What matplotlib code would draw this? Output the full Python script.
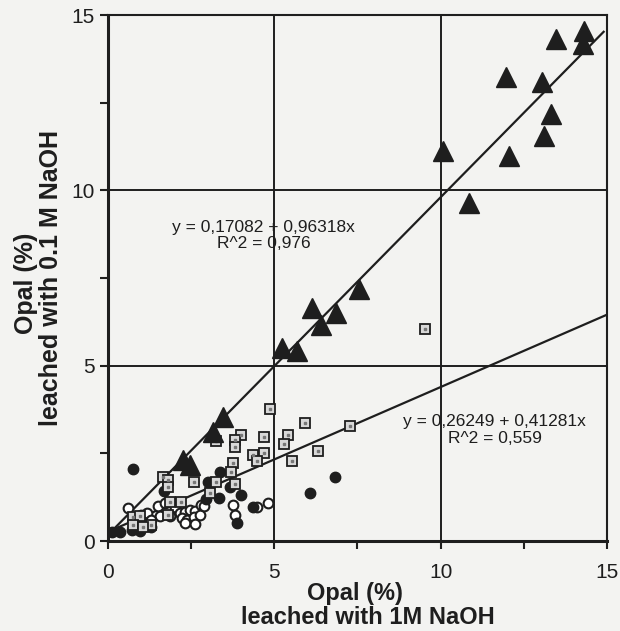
import numpy as np
import matplotlib
matplotlib.use('Agg')
import matplotlib.pyplot as plt

plt.rcParams['font.family'] = ['Liberation Sans', 'DejaVu Sans']

# triangles (high opal samples)
tri_x = [6.12, 6.87, 6.42, 5.22, 5.67, 3.46, 3.16, 2.26, 2.46, 7.55,
         14.32, 14.29, 13.47, 11.97, 13.05, 13.32, 13.10, 12.05, 10.07, 10.85]
tri_y = [6.65, 6.51, 6.17, 5.51, 5.41, 3.55, 3.12, 2.31, 2.17, 7.19,
         14.55, 14.17, 14.31, 13.22, 13.08, 12.17, 11.55, 10.98, 11.12, 9.65]

# squares
sq_x = [4.88, 5.93, 7.29, 9.54, 3.99, 4.68, 5.40, 5.29, 6.32, 5.52, 4.36, 4.68,
        4.49, 3.76, 3.71, 3.81, 3.24, 3.83, 3.83, 2.59, 3.26, 3.06, 1.66, 1.81,
        1.81, 1.86, 2.21, 1.81, 0.76, 0.96, 1.31, 0.76, 1.06]
sq_y = [3.77, 3.36, 3.29, 6.04, 3.03, 2.98, 3.03, 2.76, 2.57, 2.27, 2.46, 2.51,
        2.27, 2.22, 1.98, 1.62, 2.84, 2.87, 2.68, 1.67, 1.67, 1.38, 1.83, 1.74,
        1.53, 1.12, 1.12, 0.74, 0.68, 0.71, 0.46, 0.46, 0.39]

# filled circles
fc_x = [0.74, 1.70, 3.36, 3.01, 3.68, 3.99, 3.34, 2.96, 3.88, 4.35, 6.07, 6.84,
        0.11, 0.36, 0.71, 0.96, 1.31]
fc_y = [2.05, 1.43, 1.98, 1.69, 1.55, 1.31, 1.22, 1.19, 0.52, 0.96, 1.36, 1.82,
        0.27, 0.27, 0.31, 0.29, 0.40]

# open circles
oc_x = [0.59, 0.99, 1.19, 1.51, 1.71, 1.56, 2.03, 2.16, 2.31, 2.46, 2.61, 2.81,
        2.23, 2.39, 2.59, 2.76, 2.31, 2.61, 3.76, 3.81, 4.48, 4.81, 2.88, 1.86, 1.31]
oc_y = [0.93, 0.74, 0.79, 1.00, 1.08, 0.71, 0.98, 0.79, 0.84, 0.89, 0.87, 1.03,
        0.65, 0.60, 0.69, 0.74, 0.52, 0.49, 1.03, 0.74, 0.98, 1.09, 1.00, 0.70, 0.60]

# regression fits
fit1 = (0.17082, 0.96318)
fit2 = (0.26249, 0.41281)

bg = '#f3f3f1'
ink = '#1e1e1e'

fig = plt.figure(figsize=(6.2, 6.31), dpi=100, facecolor=bg)
ax = fig.add_axes([0.174, 0.1426, 0.805, 0.8336], facecolor=bg)

ax.set_xlim(0, 15)
ax.set_ylim(0, 15)

for v in [5, 10]:
    ax.axvline(v, color=ink, lw=1.4, zorder=1)
    ax.axhline(v, color=ink, lw=1.4, zorder=1)

xs = np.array([0.0, 14.9])
ax.plot(xs, fit1[0] + fit1[1] * xs, color=ink, lw=1.6, zorder=2)
xs2 = np.array([0.0, 15.0])
ax.plot(xs2, fit2[0] + fit2[1] * xs2, color=ink, lw=1.6, zorder=2)

ax.plot(oc_x, oc_y, 'o', ms=7, mfc='white', mec=ink, mew=1.5, zorder=3)
ax.plot(fc_x, fc_y, 'o', ms=7.5, mfc=ink, mec=ink, zorder=3)
ax.plot(sq_x, sq_y, 's', ms=6.5, mfc='#d8d8d8', mec=ink, mew=1.3, zorder=4)
ax.plot(sq_x, sq_y, 's', ms=1.8, mfc='#777777', mec='#777777', zorder=5)
ax.plot(tri_x, tri_y, '^', ms=14, mfc=ink, mec=ink, zorder=6)

ax.text(4.69, 8.71, 'y = 0,17082 + 0,96318x\nR^2 = 0,976', ha='center', va='center',
        fontsize=12.5, linespacing=1.15, color=ink)
ax.text(11.63, 3.16, 'y = 0,26249 + 0,41281x\nR^2 = 0,559', ha='center', va='center',
        fontsize=12.5, linespacing=1.15, color=ink)

ax.set_xticks([0, 5, 10, 15])
ax.set_yticks([0, 5, 10, 15])
ax.set_xticks([2.5, 7.5, 12.5], minor=True)
ax.set_yticks([2.5, 7.5, 12.5], minor=True)
ax.tick_params(which='both', direction='out', length=6, width=1.5, color=ink,
               labelsize=15, labelcolor=ink)
ax.tick_params(axis='x', pad=10)
for s in ax.spines.values():
    s.set_linewidth(1.5)
    s.set_color(ink)
ax.spines['left'].set_linewidth(2.2)
ax.spines['bottom'].set_linewidth(2.2)

ax.text(0.495, -0.099, 'Opal (%)', transform=ax.transAxes, ha='center', va='center',
        fontsize=17, fontweight='bold', color=ink)
ax.text(0.52, -0.145, 'leached with 1M NaOH', transform=ax.transAxes, ha='center',
        va='center', fontsize=17, fontweight='bold', color=ink)
ax.text(-0.164, 0.49, 'Opal (%)', transform=ax.transAxes, ha='center', va='center',
        rotation=90, fontsize=18, fontweight='bold', color=ink)
ax.text(-0.114, 0.50, 'leached with 0.1 M NaOH', transform=ax.transAxes, ha='center',
        va='center', rotation=90, fontsize=18, fontweight='bold', color=ink)

fig.savefig('out.png', dpi=100, facecolor=bg)
